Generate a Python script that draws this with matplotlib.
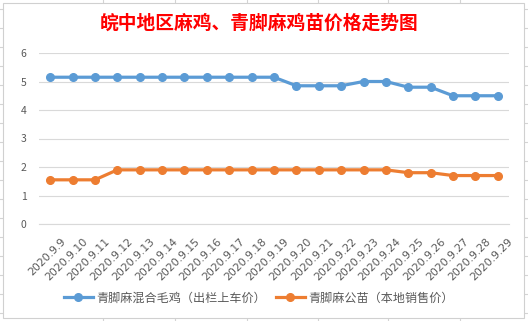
import matplotlib.pyplot as plt
from matplotlib.lines import Line2D
from matplotlib.patches import Rectangle
from matplotlib.transforms import ScaledTranslation

# data
dates = ['2020.9.9', '2020.9.10', '2020.9.11', '2020.9.12', '2020.9.13', '2020.9.14',
         '2020.9.15', '2020.9.16', '2020.9.17', '2020.9.18', '2020.9.19', '2020.9.20',
         '2020.9.21', '2020.9.22', '2020.9.23', '2020.9.24', '2020.9.25', '2020.9.26',
         '2020.9.27', '2020.9.28', '2020.9.29']
mixed_chicken = [5.15, 5.15, 5.15, 5.15, 5.15, 5.15, 5.15, 5.15, 5.15, 5.15, 5.15,
                 4.85, 4.85, 4.85, 5.0, 5.0, 4.8, 4.8, 4.5, 4.5, 4.5]
male_chicks = [1.55, 1.55, 1.55, 1.9, 1.9, 1.9, 1.9, 1.9, 1.9, 1.9, 1.9,
               1.9, 1.9, 1.9, 1.9, 1.9, 1.8, 1.8, 1.7, 1.7, 1.7]
series_names = ['青脚麻混合毛鸡（出栏上车价）', '青脚麻公苗（本地销售价）']
title = '皖中地区麻鸡、青脚麻鸡苗价格走势图'

plt.rcParams['font.family'] = ['Noto Sans CJK SC', 'DejaVu Sans']

W, H = 528, 321
fig = plt.figure(figsize=(W / 100, H / 100), dpi=100)

# spreadsheet cell grid peeking out around the chart
for x in [103, 175, 247, 318, 388, 460]:
    fig.add_artist(Line2D([x / W, x / W], [0, 1], color='#d4d4d4', lw=0.8, zorder=-3))
for y in range(9, H, 19):
    fig.add_artist(Line2D([0, 1], [1 - y / H, 1 - y / H], color='#d4d4d4', lw=0.8, zorder=-3))
fig.add_artist(Rectangle((3 / W, 1 - 318 / H), 521 / W, 315 / H, facecolor='white',
                         edgecolor='#d0d0d0', lw=0.8, zorder=-2))

ax = fig.add_axes([39 / W, 1 - 224 / H, 470 / W, 171 / H])
ax.set_facecolor('none')
x = range(len(dates))
blue, orange = '#5B9BD5', '#ED7D31'
ax.plot(x, mixed_chicken, color=blue, lw=2.3, marker='o', ms=5.5, label=series_names[0])
ax.plot(x, male_chicks, color=orange, lw=2.3, marker='o', ms=5.5, label=series_names[1])

ax.set_xlim(-0.5, len(dates) - 0.5)
ax.set_ylim(0, 6)
ax.set_yticks(range(7))
ax.grid(axis='y', color='#d9d9d9', lw=0.8)
ax.set_axisbelow(True)
for s in ['top', 'right', 'left']:
    ax.spines[s].set_visible(False)
ax.spines['bottom'].set_color('#d9d9d9')
ax.tick_params(length=0, colors='#595959')
ax.tick_params(axis='y', labelsize=7.5, pad=9)
ax.set_xticks(list(x))
ax.set_xticklabels(dates, rotation=45, ha='right', rotation_mode='anchor',
                   fontsize=7.8, family='DejaVu Sans')
ax.tick_params(axis='x', pad=3)
# excel puts the rotated labels a bit to the right and lower
shift = ScaledTranslation(0.1, -0.08, fig.dpi_scale_trans)
for lbl in ax.get_xticklabels():
    lbl.set_transform(lbl.get_transform() + shift)

fig.text(259 / W, 1 - 23 / H, title, color='red', fontsize=13.5, fontweight='bold',
         ha='center', va='center')
fig.legend(loc='center', bbox_to_anchor=(259 / W, 1 - 298 / H), ncol=2, frameon=False,
           fontsize=8.7, labelcolor='#595959', handlelength=2.4, columnspacing=0.8,
           handletextpad=0.3)

fig.savefig('out.png', dpi=100)
